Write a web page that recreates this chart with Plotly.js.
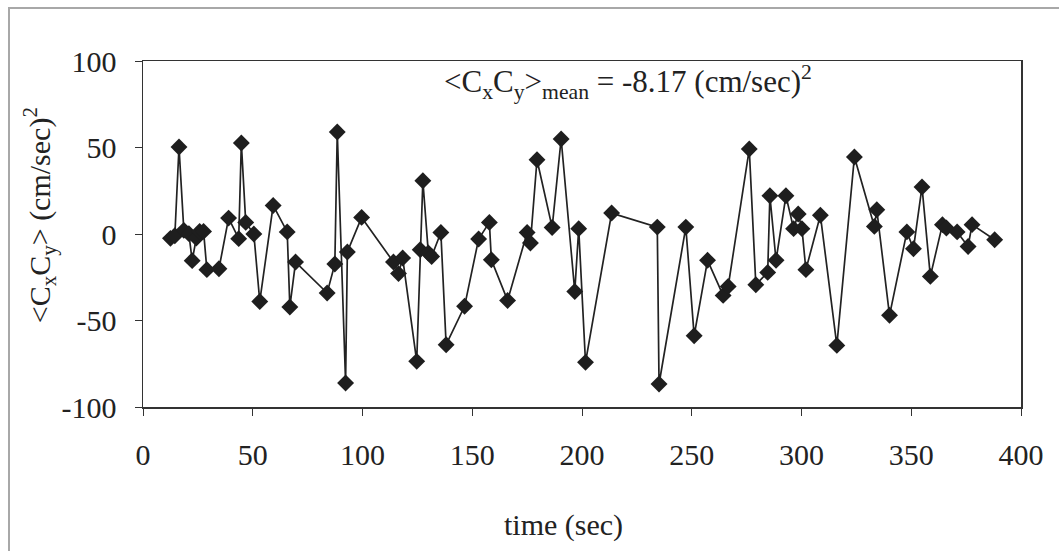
<!DOCTYPE html>
<html>
<head>
<meta charset="utf-8">
<script src="https://cdn.plot.ly/plotly-3.0.1.min.js"></script>
<style>
  html, body { margin: 0; padding: 0; background: #fff; }
  #wrap { position: relative; width: 1059px; height: 551px; }
  #chart { width: 1059px; height: 551px; }
  #frame { position: absolute; left: 8px; top: 7px; right: 0; bottom: 0;
           border-top: 2px solid #a8a8a8; border-left: 2px solid #a8a8a8;
           pointer-events: none; }
</style>
</head>
<body>
<div id="wrap">
  <div id="chart"></div>
  <div id="frame"></div>
</div>
<script>
const timeSec = [12.5, 14.5, 16.4, 18.6, 20.9, 22.4, 24.3, 25.8, 27.6, 29.1, 34.6, 39.0, 43.6, 44.8, 46.8, 50.5, 53.2, 59.3, 65.7, 66.9, 69.5, 83.9, 87.4, 88.5, 92.3, 93.1, 99.6, 114.1, 116.4, 118.3, 124.7, 126.3, 127.5, 130.0, 131.5, 135.7, 138.1, 146.5, 152.9, 157.8, 158.7, 166.1, 175.0, 176.5, 179.5, 186.4, 190.5, 196.7, 198.5, 201.6, 213.5, 234.3, 235.1, 247.3, 251.1, 257.2, 264.3, 266.6, 276.2, 279.2, 284.6, 285.6, 288.4, 292.9, 296.4, 298.5, 300.2, 302.0, 308.6, 316.1, 324.1, 333.2, 334.3, 340.1, 348.0, 351.0, 354.9, 358.7, 364.2, 366.0, 370.9, 375.9, 377.7, 388.0];
const cxcy = [-2.5, -1, 50.3, 2.1, 0.2, -15.4, -2.3, 1.5, 1.5, -20.6, -20.1, 9.2, -2.7, 52.6, 6.7, 0, -39, 16.5, 1.2, -42.2, -16.2, -34.1, -17.3, 59, -86.1, -10.4, 9.6, -16.2, -22.9, -13.9, -73.6, -9.1, 30.8, -11, -13, 0.9, -64, -41.8, -2.9, 6.7, -14.9, -38.4, 0.9, -5.2, 42.9, 3.8, 54.9, -33.2, 3.1, -74.2, 12.1, 4, -86.7, 4, -58.8, -15.2, -35.5, -30.3, 49.1, -29.3, -22.2, 22.1, -15.2, 22.1, 3.1, 11.6, 3.1, -20.6, 10.8, -64.4, 44.5, 4.4, 14, -47, 1.2, -8.5, 27.2, -24.5, 5.4, 3.5, 1.2, -7.2, 5.4, -3.3];
const xTicks = [0, 50, 100, 150, 200, 250, 300, 350, 400];
const yTicks = [-100, -50, 0, 50, 100];

const fontFam = '"Liberation Serif", "Times New Roman", serif';
const ink = '#222';

const trace = {
  x: timeSec, y: cxcy, type: 'scatter', mode: 'lines+markers',
  line: { color: ink, width: 1.7 },
  marker: { symbol: 'diamond', size: 13, color: '#1e1e1e' },
  hoverinfo: 'x+y'
};

const axisCommon = {
  showgrid: false, zeroline: false, showline: true, mirror: true,
  linecolor: '#333', linewidth: 1.5, ticks: 'outside', ticklen: 7,
  tickwidth: 1, tickcolor: '#333',
  tickfont: { family: fontFam, size: 30, color: ink }
};

const layout = {
  width: 1059, height: 551,
  margin: { l: 143, r: 38, t: 61, b: 144 },
  paper_bgcolor: 'rgba(0,0,0,0)', plot_bgcolor: '#fff',
  showlegend: false,
  xaxis: Object.assign({}, axisCommon, {
    range: [0, 400], tickvals: xTicks, ticktext: xTicks.map(String),
    ticklabelstandoff: 13
  }),
  yaxis: Object.assign({}, axisCommon, {
    range: [-100, 100], tickvals: yTicks, ticktext: yTicks.map(String),
    ticklabelstandoff: 12
  }),
  annotations: [
    { xref: 'paper', yref: 'paper', x: 0.341, y: 0.94, xanchor: 'left', yanchor: 'middle',
      showarrow: false,
      text: '&lt;C<sub>x</sub>C<sub>y</sub>&gt;<sub>mean</sub> = -8.17 (cm/sec)<sup>2</sup>',
      font: { family: fontFam, size: 31, color: ink } },
    { xref: 'paper', yref: 'paper', x: -0.117, y: 0.555, xanchor: 'center', yanchor: 'middle',
      showarrow: false, textangle: -90,
      text: '&lt;C<sub>x</sub>C<sub>y</sub>&gt; (cm/sec)<sup>2</sup>',
      font: { family: fontFam, size: 30, color: ink } },
    { xref: 'paper', yref: 'paper', x: 0.479, y: -0.342, xanchor: 'center', yanchor: 'middle',
      showarrow: false, text: 'time (sec)',
      font: { family: fontFam, size: 30, color: ink } }
  ]
};

Plotly.newPlot('chart', [trace], layout, { staticPlot: true, displayModeBar: false });
</script>
</body>
</html>
